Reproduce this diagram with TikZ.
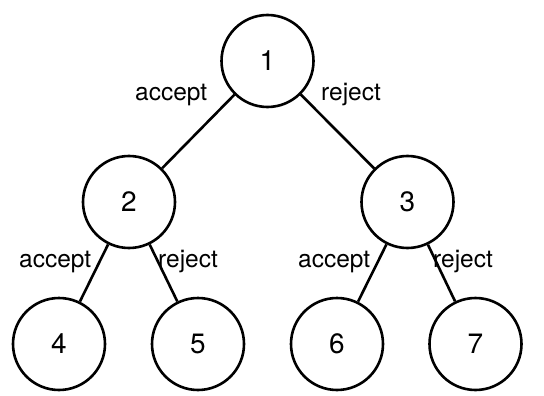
\documentclass[tikz,border=0pt]{standalone}
\usepackage{fontspec}
\setmainfont{TeX Gyre Heros}
\begin{document}
\begin{tikzpicture}[x=1pt,y=-1pt,
  statenode/.style={draw,circle,line width=2.6pt,minimum size=92pt,inner sep=0pt,font=\fontsize{28}{30}\selectfont},
  edge/.style={line width=2.6pt},
  lbl/.style={anchor=base west,inner sep=0pt,font=\fontsize{24.5}{28}\selectfont}]
\useasboundingbox (0,0) rectangle (544,396);
\node[statenode] (n1) at (267.5,61) {1};
\node[statenode] (n2) at (129,202) {2};
\node[statenode] (n3) at (407.5,202) {3};
\node[statenode] (n4) at (59,344) {4};
\node[statenode] (n5) at (198,344) {5};
\node[statenode] (n6) at (337,344) {6};
\node[statenode] (n7) at (475.5,344) {7};
\draw[edge] (n1) -- (n2);
\draw[edge] (n1) -- (n3);
\draw[edge] (n2) -- (n4);
\draw[edge] (n2) -- (n5);
\draw[edge] (n3) -- (n6);
\draw[edge] (n3) -- (n7);
\node[lbl] (l1) at (135,100) {accept};
\node[lbl] (l2) at (321,100) {reject};
\node[lbl] (l3) at (19,267) {accept};
\node[lbl] (l4) at (158,267) {reject};
\node[lbl] (l5) at (298,267) {accept};
\node[lbl] (l6) at (433,267) {reject};
\end{tikzpicture}
\end{document}
